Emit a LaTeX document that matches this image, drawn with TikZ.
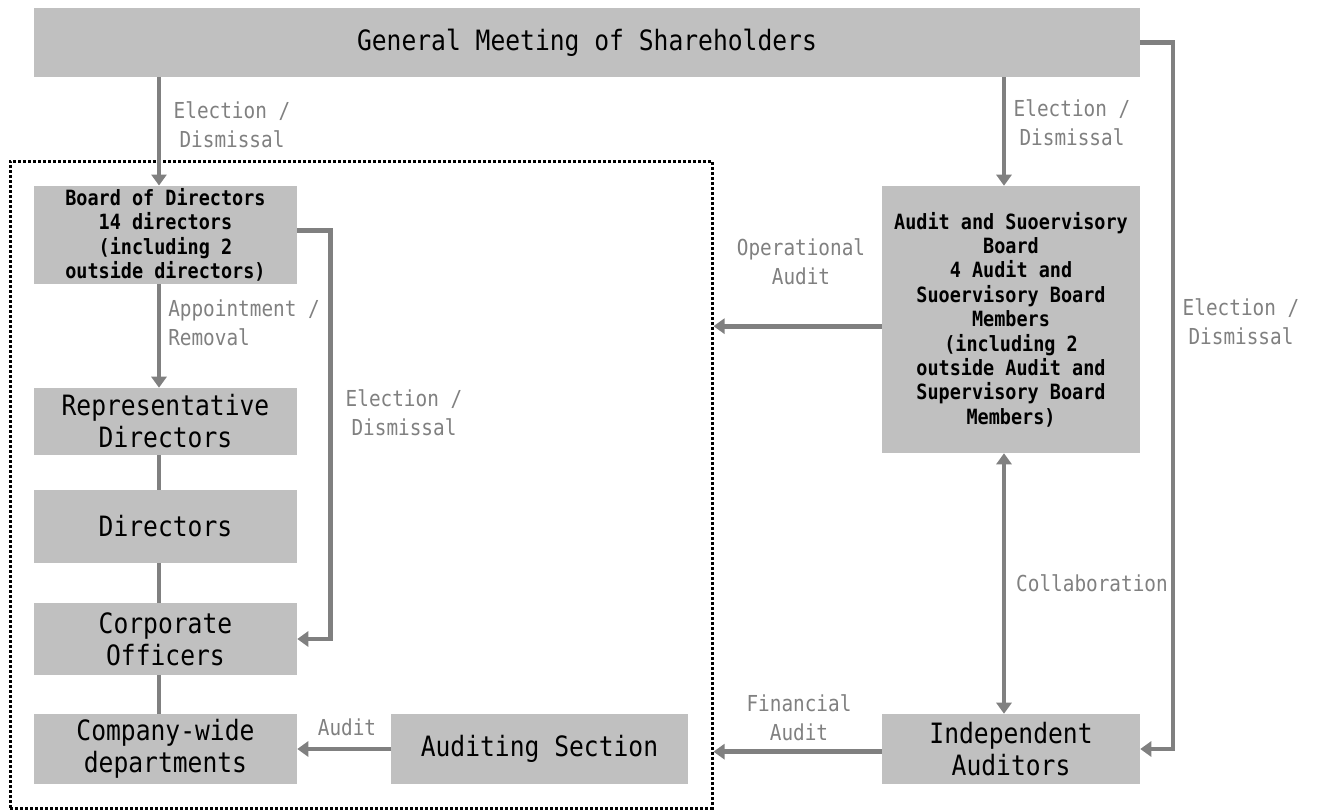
\documentclass[tikz,border=0pt]{standalone}
\usepackage{fontspec}
\usepackage{tikz}
\usetikzlibrary{positioning, arrows.meta}
\newfontfamily\gothic[FakeStretch=0.88]{DejaVu Sans Mono}
\definecolor{boxgray}{HTML}{C0C0C0}
\definecolor{linegray}{HTML}{808080}
\tikzset{
  unit/.style={fill=boxgray, inner sep=2pt, align=center, font=\gothic\fontsize{21pt}{24pt}\selectfont},
  smallunit/.style={unit, font=\gothic\bfseries\fontsize{15.75pt}{18.3pt}\selectfont},
  lbl/.style={text=linegray, align=center, inner sep=0pt, font=\gothic\fontsize{16.5pt}{21.75pt}\selectfont},
  link/.style={draw=linegray, line width=3.6pt},
  arr/.style={link, -{Triangle[width=11.25pt,length=8.25pt]}},
  twoway/.style={link, {Triangle[width=11.25pt,length=8.25pt]}-{Triangle[width=11.25pt,length=8.25pt]}},
  groupframe/.style={draw, line width=2.25pt, dash pattern=on 2.25pt off 1.5pt}
}

\begin{document}
\begin{tikzpicture}[x=0.75pt, y=-0.75pt]
    \useasboundingbox (0,0) rectangle (1321,810);
    \coordinate (lx) at (159,0);
    \coordinate (rx) at (1004,0);

    % boxes
    \node[unit, minimum width=829.5pt, minimum height=51.75pt] (gms) at (587,42.5) {General Meeting of Shareholders};
    \node[groupframe, minimum width=526.5pt, minimum height=485.25pt] (group) at (361,484.5) {};
    \node[smallunit, minimum width=197.25pt, minimum height=73.5pt] (board) at (165.5,235)
        {Board of Directors\\14 directors\\(including 2\\outside directors)};
    \node[unit, minimum width=197.25pt, minimum height=50.25pt] (rep) at (165.5,421.5) {Representative\\Directors};
    \node[unit, minimum width=197.25pt, minimum height=54.75pt] (dirs) at (165.5,526.5) {Directors};
    \node[unit, minimum width=197.25pt, minimum height=54pt] (officers) at (165.5,639) {Corporate\\Officers};
    \node[unit, minimum width=197.25pt, minimum height=52.5pt] (company) at (165.5,749) {Company-wide\\departments};
    \node[unit, minimum width=222.75pt, minimum height=52.5pt] (auditing) at (539.5,749) {Auditing Section};
    \node[smallunit, minimum width=193.5pt, minimum height=200.25pt] (asb) at (1011,319.5)
        {Audit and Suoervisory\\Board\\4 Audit and\\Suoervisory Board\\Members\\(including 2\\outside Audit and\\Supervisory Board\\Members)};
    \node[unit, minimum width=193.5pt, minimum height=52.5pt] (ia) at (1011,749) {Independent\\Auditors};

    % connectors
    \draw[arr] (gms.south -| lx) -- (board.north -| lx);
    \draw[arr] (board.south -| lx) -- (rep.north -| lx);
    \draw[link] (rep.south -| lx) -- (dirs.north -| lx);
    \draw[link] (dirs.south -| lx) -- (officers.north -| lx);
    \draw[link] (officers.south -| lx) -- (company.north -| lx);
    \draw[arr] ([yshift=3.5pt]board.east) -- ++(33,0) |- (officers.east);
    \draw[arr] (auditing.west) -- (company.east);
    \draw[arr] (gms.south -| rx) -- (asb.north -| rx);
    \draw[arr] (gms.east) -- (1173,42.5) |- (ia.east);
    \draw[twoway] (asb.south -| rx) -- (ia.north -| rx);
    \draw[arr] ([yshift=-5pt]asb.west) -- ([yshift=-5pt]asb.west -| group.east);
    \draw[arr] ([yshift=-2pt]ia.west) -- ([yshift=-2pt]ia.west -| group.east);

    % labels
    \node[lbl] (electLeft) at (232,125) {Election /\\Dismissal};
    \node[lbl, align=left, anchor=west] (appoint) at (168,323) {Appointment /\\Removal};
    \node[lbl] (electMid) at (404,413) {Election /\\Dismissal};
    \node[lbl] (electTop) at (1072,123) {Election /\\Dismissal};
    \node[lbl] (electRight) at (1241,322) {Election /\\Dismissal};
    \node[lbl] (operational) at (801,262) {Operational\\Audit};
    \node[lbl] (collab) at (1092,583) {Collaboration};
    \node[lbl] (financial) at (799,718) {Financial\\Audit};
    \node[lbl] (auditLbl) at (347,727) {Audit};
\end{tikzpicture}
\end{document}
